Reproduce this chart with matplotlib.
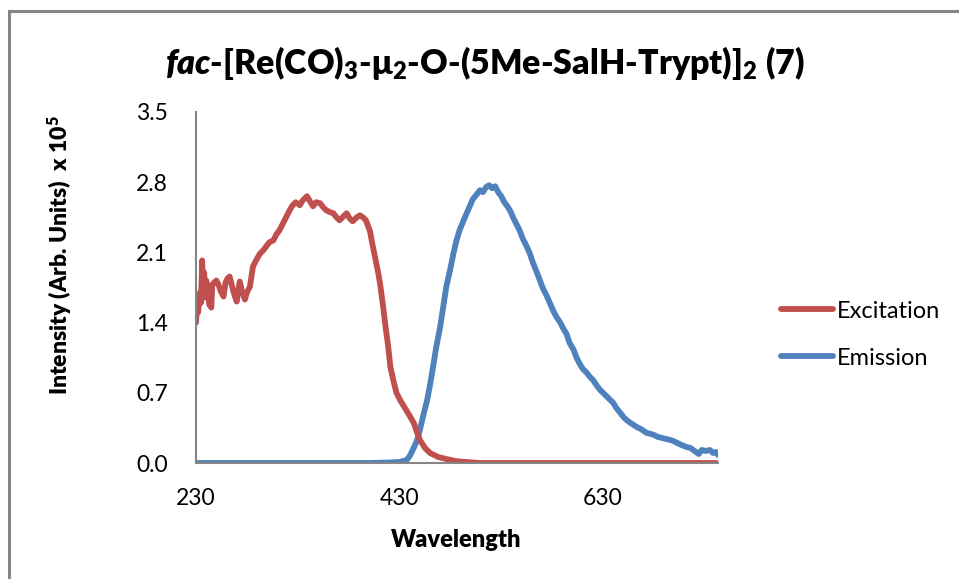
import numpy as np
import matplotlib.pyplot as plt
from matplotlib.patches import Rectangle

# values (intensity in units of 1e5)
exc_wl = [230, 231, 232, 234, 235, 236, 237, 238, 239, 240, 242, 243, 245, 246, 248,
          250, 252, 254, 257, 259, 261, 263, 265, 267, 270, 272, 273, 275, 278, 280,
          283, 286, 289, 293, 296, 299, 302, 306, 309, 312, 315, 319, 322, 325, 328,
          332, 335, 339, 342, 345, 348, 352, 355, 358, 362, 365, 368, 371, 375, 378,
          381, 384, 388, 391, 394, 397, 401, 403, 406, 409, 411, 414, 416, 419, 421,
          424, 427, 431, 434, 437, 440, 444, 447, 450, 455, 460, 468, 476, 485, 492,
          500, 509, 600, 743]
exc_int = [1.40, 1.58, 1.50, 1.70, 1.60, 2.02, 1.75, 1.90, 1.65, 1.82, 1.70, 1.58, 1.55, 1.78, 1.80,
           1.82, 1.78, 1.72, 1.66, 1.80, 1.84, 1.86, 1.78, 1.70, 1.61, 1.75, 1.81, 1.72, 1.63, 1.70,
           1.76, 1.96, 2.02, 2.09, 2.12, 2.16, 2.20, 2.22, 2.28, 2.32, 2.38, 2.46, 2.52, 2.57, 2.60,
           2.57, 2.62, 2.66, 2.61, 2.56, 2.60, 2.59, 2.55, 2.52, 2.50, 2.49, 2.45, 2.42, 2.46, 2.49,
           2.44, 2.41, 2.45, 2.47, 2.45, 2.42, 2.31, 2.20, 2.05, 1.90, 1.78, 1.55, 1.38, 1.15, 0.96,
           0.82, 0.70, 0.62, 0.57, 0.52, 0.47, 0.40, 0.31, 0.23, 0.15, 0.10, 0.06, 0.04, 0.02, 0.013,
           0.006, 0.0, 0.0, 0.0]

em_wl = [230, 400, 420, 430, 437, 440, 443, 447, 450, 453, 457, 460, 463, 466, 470,
         473, 476, 480, 483, 486, 489, 493, 496, 499, 502, 506, 509, 512, 515, 518,
         521, 524, 527, 530, 533, 536, 539, 542, 545, 548, 551, 555, 558, 561, 565,
         568, 571, 575, 578, 581, 584, 588, 591, 594, 597, 601, 604, 607, 610, 614,
         617, 620, 624, 627, 630, 634, 637, 640, 643, 647, 650, 653, 657, 660, 663,
         667, 670, 673, 677, 680, 684, 688, 692, 696, 699, 703, 707, 712, 716, 720,
         724, 727, 731, 735, 738, 741, 743]
em_int = [0.0, 0.0, 0.005, 0.01, 0.03, 0.07, 0.13, 0.22, 0.33, 0.46, 0.62, 0.78, 0.96, 1.15, 1.36,
          1.56, 1.76, 1.94, 2.09, 2.22, 2.32, 2.42, 2.49, 2.56, 2.63, 2.68, 2.72, 2.70, 2.75, 2.77,
          2.74, 2.76, 2.70, 2.66, 2.60, 2.56, 2.51, 2.44, 2.38, 2.32, 2.24, 2.16, 2.09, 2.00, 1.90,
          1.82, 1.74, 1.66, 1.59, 1.52, 1.46, 1.40, 1.34, 1.29, 1.20, 1.13, 1.05, 0.99, 0.94, 0.90,
          0.86, 0.83, 0.77, 0.73, 0.70, 0.66, 0.63, 0.60, 0.55, 0.50, 0.46, 0.43, 0.40, 0.38, 0.36,
          0.34, 0.32, 0.30, 0.29, 0.28, 0.26, 0.25, 0.24, 0.23, 0.22, 0.20, 0.18, 0.16, 0.15, 0.12,
          0.09, 0.13, 0.12, 0.13, 0.10, 0.11, 0.08]

x_ticks = [230, 430, 630]
y_ticks = [0.0, 0.7, 1.4, 2.1, 2.8, 3.5]

plt.rcParams['font.family'] = ['Lato', 'DejaVu Sans']
plt.rcParams['mathtext.fontset'] = 'custom'
plt.rcParams['mathtext.rm'] = 'Lato:heavy'
plt.rcParams['mathtext.it'] = 'Lato:heavy:italic'
plt.rcParams['mathtext.bf'] = 'Lato:heavy'

red = '#C0504D'
blue = '#4F81BD'
grey = '#868686'

fig = plt.figure(figsize=(9.59, 5.79), dpi=100)
ax = fig.add_axes([0.2044, 0.2003, 0.5443, 0.6063])

# outer chart border (only top/left visible in the reference)
fig.patches.append(Rectangle((9 / 959, -0.1), 1.2, 1 - 11 / 579 + 0.1, transform=fig.transFigure,
                             fill=False, edgecolor=grey, linewidth=2.2))

ax.plot(em_wl, em_int, color=blue, linewidth=4.2, label='Emission', solid_capstyle='round', solid_joinstyle='round')
ax.plot(exc_wl, exc_int, color=red, linewidth=4.2, label='Excitation', solid_capstyle='round', solid_joinstyle='round')

ax.set_xlim(230, 743)
ax.set_ylim(0, 3.5)
ax.set_xticks(x_ticks)
ax.set_yticks(y_ticks)
ax.set_yticklabels(['%.1f' % v for v in y_ticks])
ax.tick_params(length=0, labelsize=16.5)
ax.tick_params(axis='y', pad=20)
ax.tick_params(axis='x', pad=18)
for s in ['top', 'right']:
    ax.spines[s].set_visible(False)
for s in ['left', 'bottom']:
    ax.spines[s].set_color(grey)
    ax.spines[s].set_linewidth(1.5)

fig.text(456 / 959, 1 - 540 / 579, 'Wavelength', ha='center', va='center', fontsize=17, fontweight='heavy')
fig.text(60 / 959, 1 - 255 / 579, r'Intensity (Arb. Units)  x 10$^5$', ha='center', va='center',
         rotation=90, fontsize=16.5, fontweight='heavy')

fig.text(485 / 959, 1 - 63 / 579, r'$\mathit{fac}$-[Re(CO)$_3$-μ$_2$-O-(5Me-SalH-Trypt)]$_2$ (7)',
         ha='center', va='center', fontsize=24.5, fontweight='heavy')

h, l = ax.get_legend_handles_labels()
ax.legend(h[::-1], l[::-1], loc='center left', bbox_to_anchor=(1.08, 0.366), frameon=False,
          fontsize=17, handlelength=2.2, handletextpad=0.15, labelspacing=1.1)

fig.savefig('out.png', dpi=100)
